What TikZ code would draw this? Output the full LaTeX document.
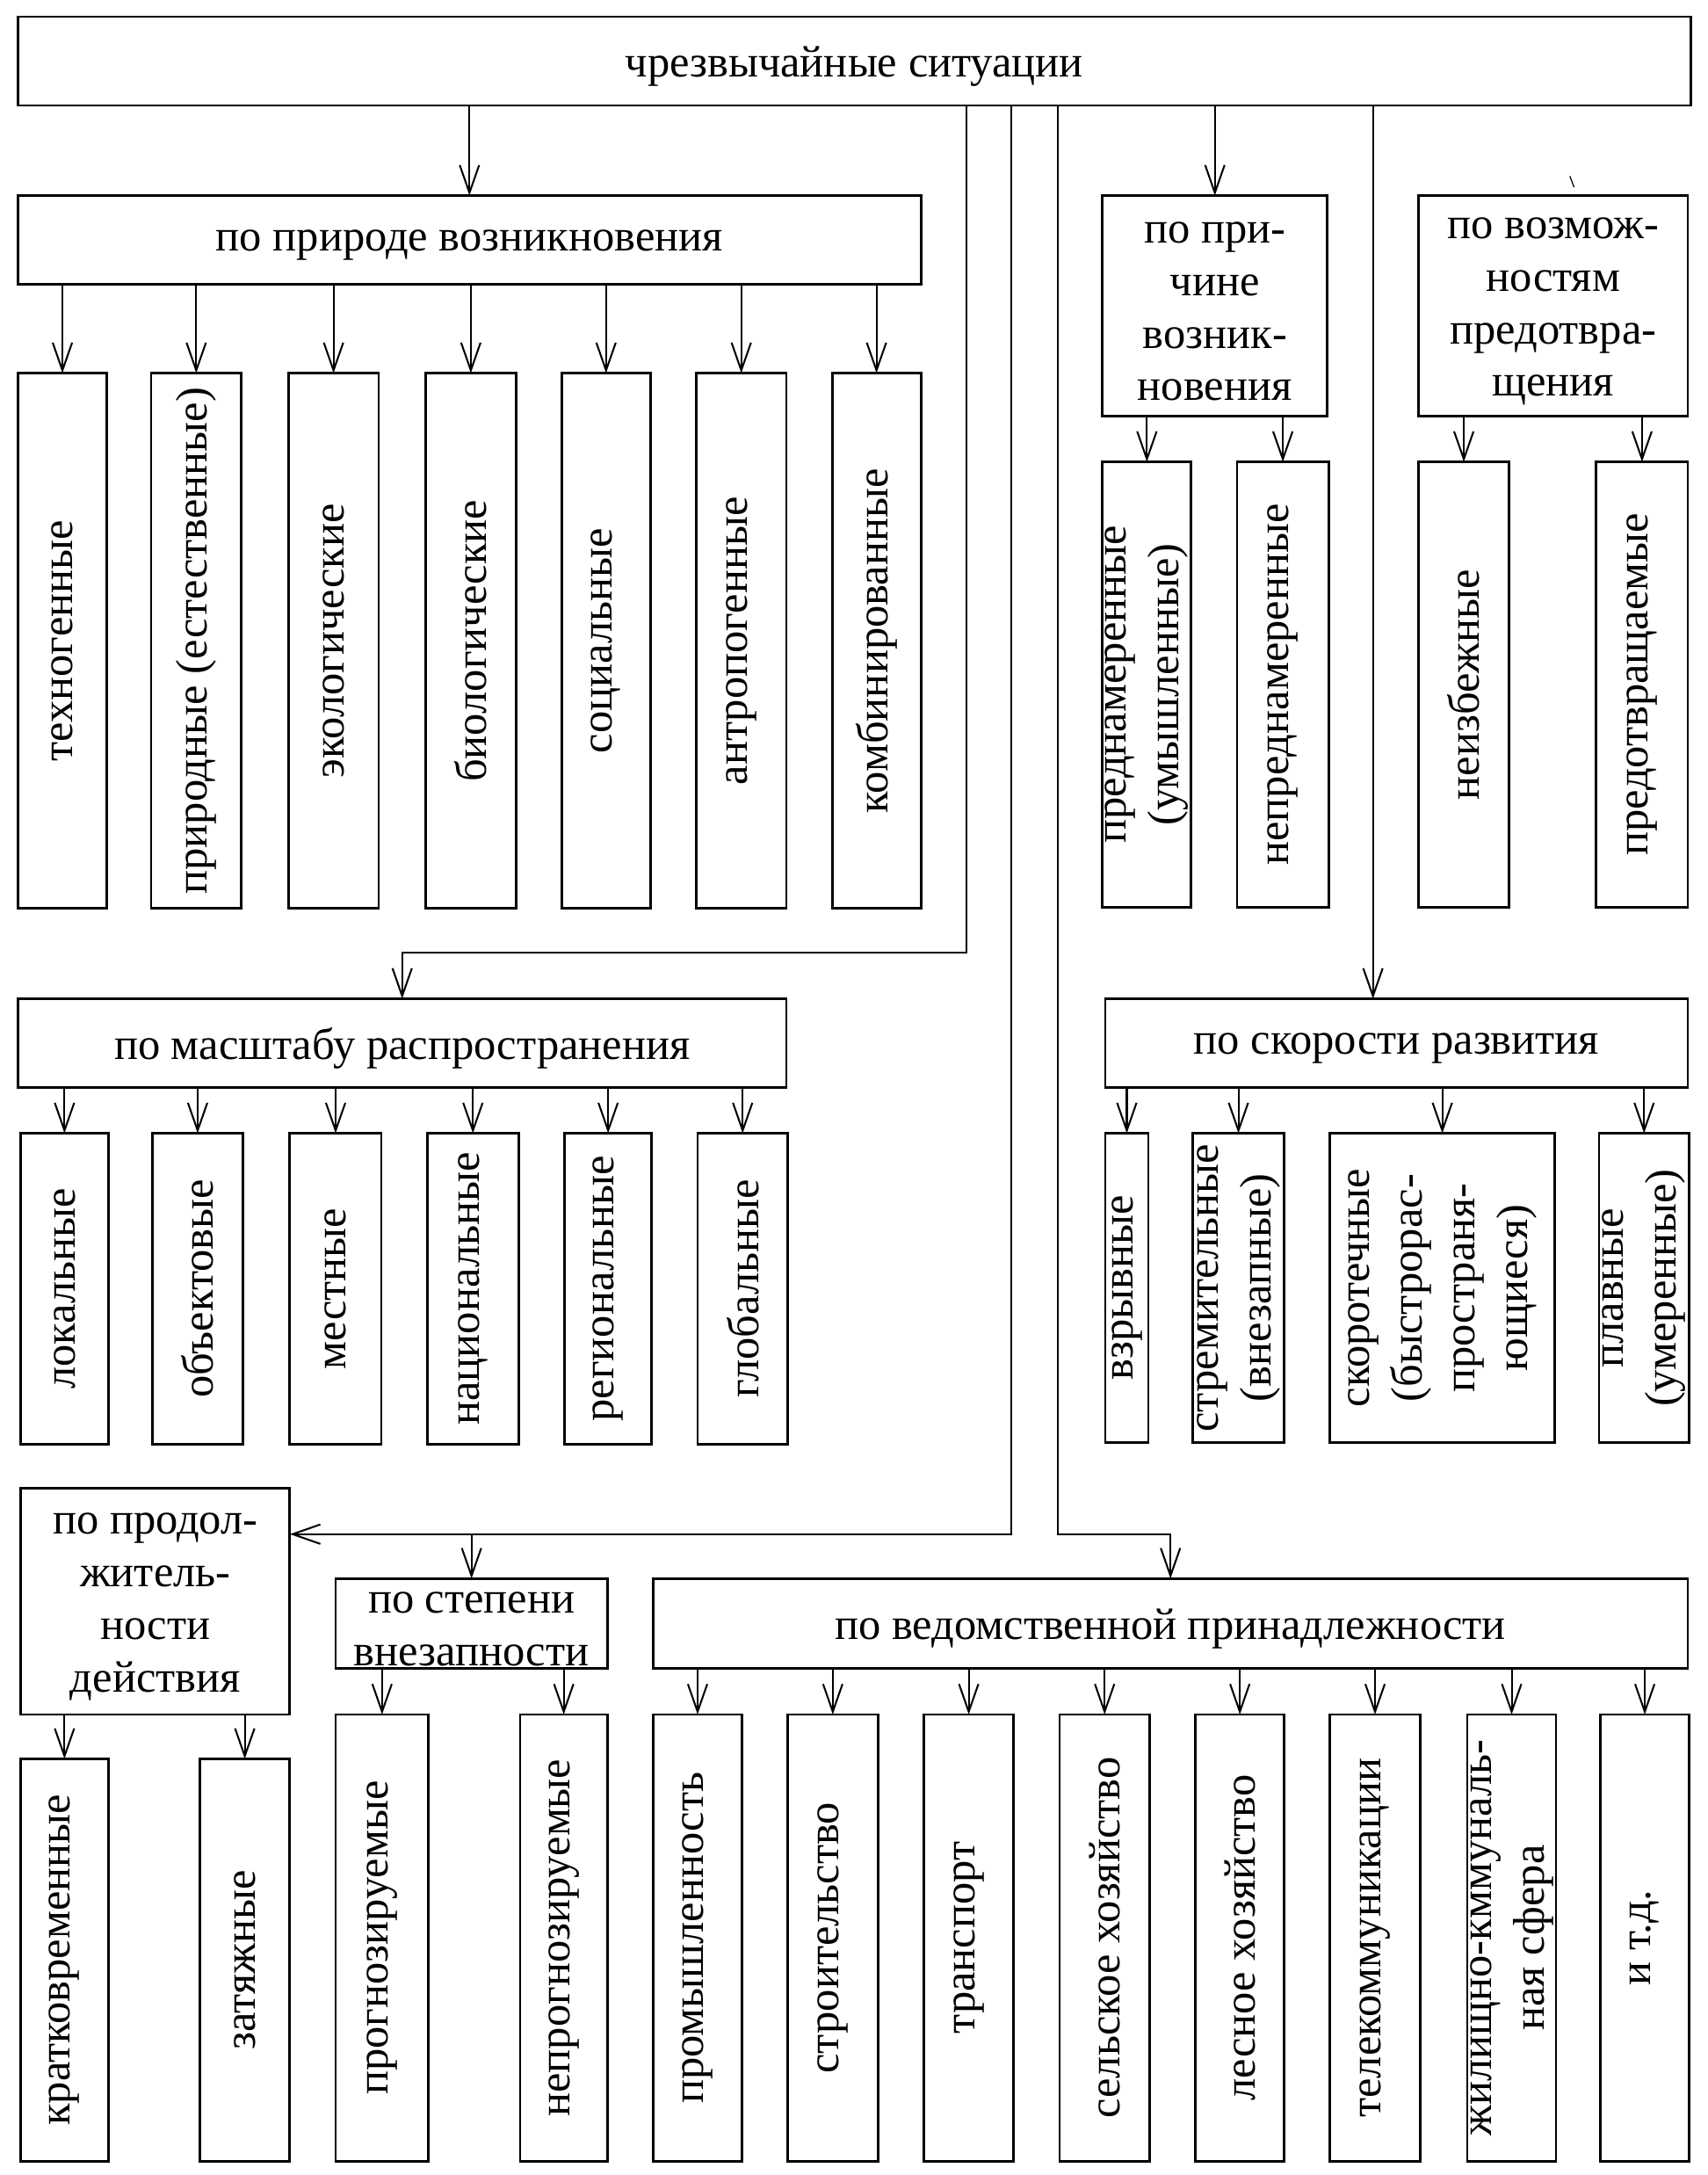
\documentclass[tikz,border=0pt]{standalone}
\usepackage{fontspec}
\setmainfont{Liberation Serif}
\usetikzlibrary{arrows.meta}
\tikzset{
 box/.style={draw, line width=0.9pt, inner sep=0pt, outer sep=0pt},
 txt/.style={inner sep=0pt, align=center, font=\fontsize{16}{19}\selectfont},
 conn/.style={line width=0.65pt},
 arr/.style={conn, -{Straight Barb[length=10pt,width=7pt]}}
}
\newcommand\mkbox[6]{%
 \pgfmathsetmacro\mybw{(#4-#2)/2}%
 \pgfmathsetmacro\mybh{(#5-#3)/2}%
 \node[box,minimum width=\mybw pt,minimum height=\mybh pt] (#1) at ({(#2+#4)/2},{(#3+#5)/2}) {};%
 \node[txt,yshift=-2pt] (#1t) at (#1.center) {#6};}
\newcommand\mkrbox[6]{%
 \pgfmathsetmacro\mybw{(#4-#2)/2}%
 \pgfmathsetmacro\mybh{(#5-#3)/2}%
 \node[box,minimum width=\mybw pt,minimum height=\mybh pt] (#1) at ({(#2+#4)/2},{(#3+#5)/2}) {};%
 \node[txt,rotate=90] (#1t) at (#1.center) {#6};}
\begin{document}
\begin{tikzpicture}[x=0.5pt,y=-0.5pt]
\fill[white] (0,0) rectangle (1231,1568);
\useasboundingbox (0,0) rectangle (1231,1568);

% top
\mkbox{top}{13}{12}{1219}{76}{чрезвычайные ситуации}

% по природе возникновения
\mkbox{nat}{13}{141}{664}{205}{по природе возникновения}
\mkrbox{n1}{13}{269}{77}{655}{техногенные}
\mkrbox{n2}{109}{269}{174}{655}{природные (естественные)}
\mkrbox{n3}{208}{269}{273}{655}{экологические}
\mkrbox{n4}{307}{269}{372}{655}{биологические}
\mkrbox{n5}{405}{269}{469}{655}{социальные}
\mkrbox{n6}{502}{269}{567}{655}{антропогенные}
\mkrbox{n7}{600}{269}{664}{655}{комбинированные}

% по причине возникновения
\mkbox{cause}{795}{141}{957}{300}{по при-\\чине\\возник-\\новения}
\mkrbox{c1}{795}{333}{859}{654}{преднамеренные\\(умышленные)}
\mkrbox{c2}{892}{333}{958}{654}{непреднамеренные}

% по возможностям предотвращения
\mkbox{prev}{1023}{141}{1217}{300}{по возмож-\\ностям\\предотвра-\\щения}
\mkrbox{p1}{1023}{333}{1088}{654}{неизбежные}
\mkrbox{p2}{1151}{333}{1217}{654}{предотвращаемые}

% по масштабу распространения
\mkbox{scale}{13}{720}{567}{784}{по масштабу распространения}
\mkrbox{s1}{15}{817}{78}{1041}{локальные}
\mkrbox{s2}{110}{817}{175}{1041}{объектовые}
\mkrbox{s3}{209}{817}{275}{1041}{местные}
\mkrbox{s4}{308}{817}{374}{1041}{национальные}
\mkrbox{s5}{407}{817}{470}{1041}{региональные}
\mkrbox{s6}{503}{817}{568}{1041}{глобальные}

% по скорости развития
\mkbox{speed}{797}{720}{1217}{784}{по скорости развития}
\mkrbox{v1}{797}{817}{828}{1040}{взрывные}
\mkrbox{v2}{860}{817}{926}{1040}{стремительные\\(внезапные)}
\mkrbox{v3}{959}{817}{1121}{1040}{скоротечные\\(быстрорас-\\пространя-\\ющиеся)}
\mkrbox{v4}{1153}{817}{1218}{1040}{плавные\\(умеренные)}

% по продолжительности действия
\mkbox{dur}{15}{1073}{209}{1236}{по продол-\\житель-\\ности\\действия}
\mkrbox{d1}{15}{1268}{78}{1558}{кратковременные}
\mkrbox{d2}{144}{1268}{209}{1558}{затяжные}

% по степени внезапности
\mkbox{sud}{242}{1138}{438}{1203}{по степени\\внезапности}
\mkrbox{u1}{242}{1236}{309}{1558}{прогнозируемые}
\mkrbox{u2}{375}{1236}{438}{1558}{непрогнозируемые}

% по ведомственной принадлежности
\mkbox{ved}{471}{1138}{1217}{1203}{по ведомственной принадлежности}
\mkrbox{w1}{471}{1236}{535}{1558}{промышленность}
\mkrbox{w2}{568}{1236}{633}{1558}{строительство}
\mkrbox{w3}{666}{1236}{731}{1558}{транспорт}
\mkrbox{w4}{764}{1236}{829}{1558}{сельское хозяйство}
\mkrbox{w5}{862}{1236}{926}{1558}{лесное хозяйство}
\mkrbox{w6}{959}{1236}{1024}{1558}{телекоммуникации}
\mkrbox{w7}{1058}{1236}{1122}{1558}{жилищно-кммуналь-\\ная сфера}
\mkrbox{w8}{1154}{1236}{1218}{1558}{и т.д.}

% junction coordinates
\coordinate (j1) at (697,687);
\coordinate (j2) at (729,1106);
\coordinate (j3) at (763,1106);
\coordinate (j4) at (990,0);

% connectors from top
\draw[arr] (top.south -| nat.north) -- (nat.north);
\draw[arr] (top.south -| j1) -- (j1) -| (scale.north);
\draw[arr] (top.south -| j2) -- (j2) -- (dur.east |- j2);
\draw[arr] (j2 -| sud.north) -- (sud.north);
\draw[arr] (top.south -| j3) -- (j3) -| (ved.north);
\draw[arr] (top.south -| cause.north) -- (cause.north);
\draw[arr] (top.south -| j4) -- (speed.north -| j4);
\draw[line width=0.4pt] (1132,127) -- (1135,135);

% children arrows
\foreach \c in {n1,n2,n3,n4,n5,n6,n7} \draw[arr] (nat.south -| \c.north) -- (\c.north);
\foreach \c in {c1,c2} \draw[arr] (cause.south -| \c.north) -- (\c.north);
\foreach \c in {p1,p2} \draw[arr] (prev.south -| \c.north) -- (\c.north);
\foreach \c in {s1,s2,s3,s4,s5,s6} \draw[arr] (scale.south -| \c.north) -- (\c.north);
\foreach \c in {v1,v2,v3,v4} \draw[arr] (speed.south -| \c.north) -- (\c.north);
\foreach \c in {d1,d2} \draw[arr] (dur.south -| \c.north) -- (\c.north);
\foreach \c in {u1,u2} \draw[arr] (sud.south -| \c.north) -- (\c.north);
\foreach \c in {w1,w2,w3,w4,w5,w6,w7,w8} \draw[arr] (ved.south -| \c.north) -- (\c.north);
\end{tikzpicture}
\end{document}
